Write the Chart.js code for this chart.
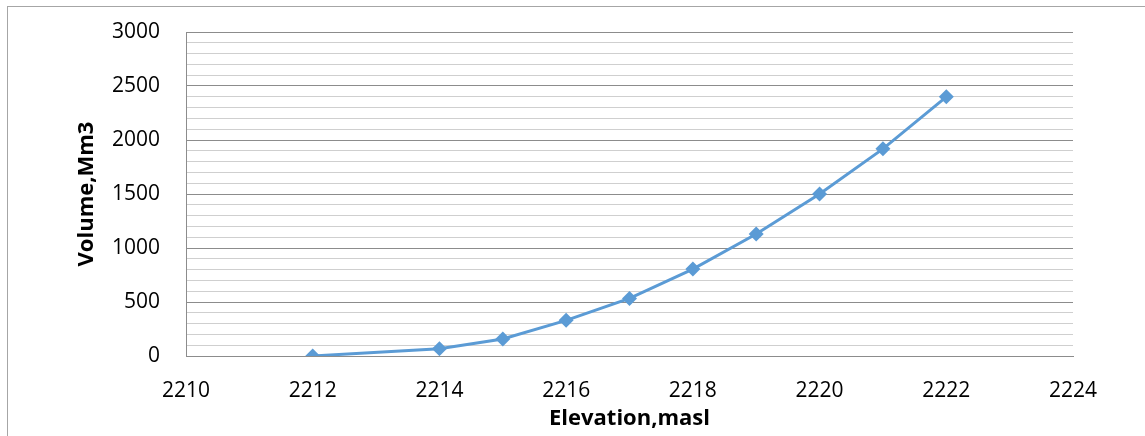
<!DOCTYPE html>
<html lang="en">
<head>
    <meta charset="UTF-8">
    <title>Elevation - Volume Curve</title>
    <script src="https://cdn.jsdelivr.net/npm/chart.js"></script>
    <style>
        body { margin: 0; background: white; }
        .frame { position: absolute; left: 7px; top: 6px; width: 1200px; height: 500px; border: 1px solid #a6a6a6; }
        .wrap { position: absolute; left: 0; top: 0; width: 1145px; height: 436px; }
    </style>
</head>
<body>
    <div class="frame"></div>
    <div class="wrap"><canvas id="volumeChart"></canvas></div>

    <script>
        const elevations = [2212, 2214, 2215, 2216, 2217, 2218, 2219, 2220, 2221, 2222];
        const volumes = [0, 68, 158, 330, 533, 805, 1130, 1500, 1918, 2400];
        const xTicks = [2210, 2212, 2214, 2216, 2218, 2220, 2222, 2224];

        const points = elevations.map((e, i) => ({ x: e, y: volumes[i] }));

        Chart.defaults.font.family = '"Open Sans", "Liberation Sans", sans-serif';
        Chart.defaults.font.size = 21;
        Chart.defaults.color = '#000';

        new Chart(document.getElementById('volumeChart'), {
            type: 'line',
            data: {
                datasets: [{
                    data: points,
                    borderColor: '#5b9bd5',
                    backgroundColor: '#5b9bd5',
                    borderWidth: 3,
                    pointStyle: 'rectRot',
                    pointRadius: 7.5,
                    pointBorderWidth: 0,
                    fill: false,
                    tension: 0
                }]
            },
            options: {
                responsive: true,
                maintainAspectRatio: false,
                animation: false,
                layout: { padding: { left: 70, top: 32, right: 72, bottom: 0 } },
                plugins: { legend: { display: false }, tooltip: { enabled: false } },
                scales: {
                    x: {
                        type: 'linear',
                        min: 2210,
                        max: 2224,
                        afterBuildTicks: s => { s.ticks = xTicks.map(v => ({ value: v })); },
                        afterFit: s => { s.height = 80; s.paddingLeft = 0; s.paddingRight = 0; },
                        grid: { display: false, drawTicks: false },
                        border: { color: '#8c8c8c' },
                        ticks: { padding: 22, callback: v => String(v) },
                        title: { display: true, text: 'Elevation,masl', font: { weight: 'bold', size: 22 }, padding: { top: 0, bottom: 4 } }
                    },
                    y: {
                        min: 0,
                        max: 3000,
                        afterFit: s => { s.width = 116; s.paddingTop = 0; s.paddingBottom = 0; },
                        grid: {
                            drawTicks: false,
                            color: c => (c.tick.value % 500 === 0 ? '#8c8c8c' : '#cfcfcf')
                        },
                        border: { color: '#8c8c8c' },
                        ticks: {
                            stepSize: 100,
                            autoSkip: false,
                            padding: 26,
                            callback: v => (v % 500 === 0 ? String(v) : '')
                        },
                        title: { display: true, text: 'Volume,Mm3', font: { weight: 'bold', size: 22 }, padding: { top: 4, bottom: 0 } }
                    }
                }
            }
        });
    </script>
</body>
</html>
